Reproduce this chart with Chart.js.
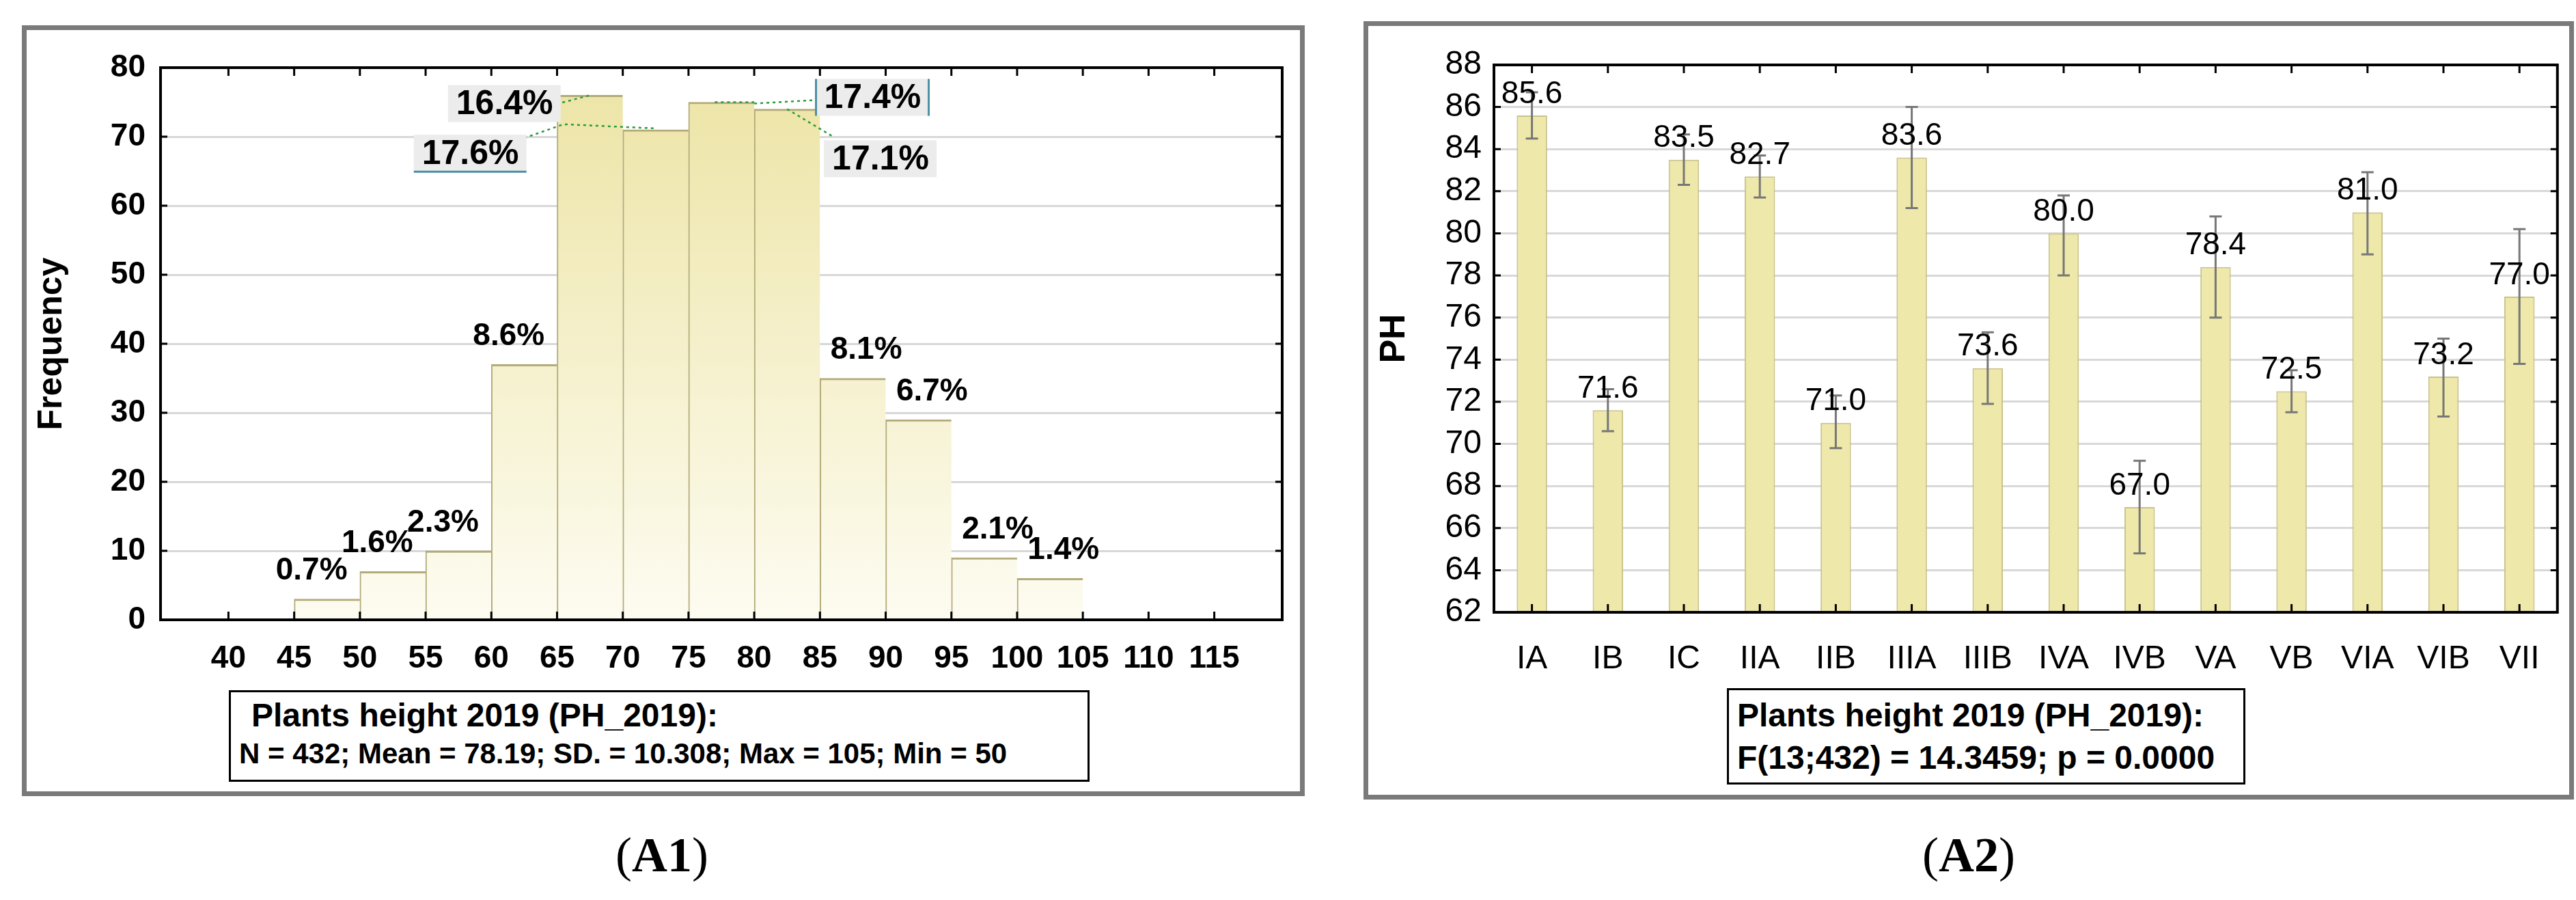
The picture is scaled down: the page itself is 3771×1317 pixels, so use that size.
<!DOCTYPE html>
<html><head><meta charset="utf-8">
<script src="https://cdn.jsdelivr.net/npm/chart.js@4"></script>
<style>
body{margin:0;background:#fff;width:3771px;height:1317px;position:relative;overflow:hidden;font-family:'Liberation Sans Narrow','Liberation Sans',sans-serif}
.frame{position:absolute;border:7px solid #7a7a7a;box-sizing:border-box}
canvas{position:absolute}
.box{position:absolute;border:3px solid #000;background:#fff;font-weight:bold;font-size:44px;line-height:56px;padding:6px 12px;box-sizing:border-box;font-family:'Liberation Sans Narrow','Liberation Sans',sans-serif}
.cap{position:absolute;font-family:'Liberation Serif','DejaVu Serif',serif;font-size:72px;transform:translateX(-50%)}
</style></head><body>
<div class="frame" style="left:32px;top:37px;width:1878px;height:1128px"></div>
<div class="frame" style="left:1996px;top:31px;width:1772px;height:1139px"></div>
<canvas id="c1" width="1860" height="1115" style="left:42px;top:44px"></canvas>
<canvas id="c2" width="1752" height="1126" style="left:2006px;top:38px"></canvas>
<div class="box" style="left:335px;top:1010px;width:1260px;height:134px"><div style="padding-left:18px;font-size:48px">Plants height 2019 (PH_2019):</div><div style="font-size:42px">N = 432; Mean = 78.19; SD. = 10.308; Max = 105; Min = 50</div></div>
<div class="box" style="left:2528px;top:1007px;width:759px;height:141px;font-size:48px;line-height:62px"><div>Plants height 2019 (PH_2019):</div><div>F(13;432) = 14.3459; p = 0.0000</div></div>
<div class="cap" style="left:969px;top:1210px">(<b>A1</b>)</div>
<div class="cap" style="left:2882px;top:1210px">(<b>A2</b>)</div>
<script>
// ---- A1 histogram data ----
const binStarts = [45,50,55,60,65,70,75,80,85,90,95,100];
const binCounts = [3,7,10,37,76,71,75,74,35,29,9,6];
const binPercents = ["0.7%","1.6%","2.3%","8.6%","17.6%","16.4%","17.4%","17.1%","8.1%","6.7%","2.1%","1.4%"];
const histTicks = [40,45,50,55,60,65,70,75,80,85,90,95,100,105,110,115];
// ---- A2 means data ----
const groups = ["IA","IB","IC","IIA","IIB","IIIA","IIIB","IVA","IVB","VA","VB","VIA","VIB","VII"];
const phMeans = [85.6,71.6,83.5,82.7,71.0,83.6,73.6,80.0,67.0,78.4,72.5,81.0,73.2,77.0];
const phLow  = [84.5,70.6,82.3,81.7,69.8,81.2,71.9,78.0,64.8,76.0,71.5,79.0,71.3,73.8];
const phHigh = [86.7,72.6,84.7,83.7,72.3,86.0,75.3,81.8,69.2,80.8,73.5,82.9,75.0,80.2];
const phTicks = [62,64,66,68,70,72,74,76,78,80,82,84,86,88];

const NF = "'Liberation Sans Narrow','Liberation Sans',sans-serif";
Chart.defaults.devicePixelRatio = 1;
Chart.defaults.animation = false;

function tickMarks(chart, xs){
  const a = chart.chartArea, ctx = chart.ctx, x = chart.scales.x, y = chart.scales.y;
  ctx.save(); ctx.strokeStyle='#000'; ctx.lineWidth=3;
  xs.forEach(v=>{const px=x.getPixelForValue(v);
    ctx.beginPath();ctx.moveTo(px,a.top);ctx.lineTo(px,a.top+12);ctx.moveTo(px,a.bottom);ctx.lineTo(px,a.bottom-12);ctx.stroke();});
  y.ticks.forEach(t=>{const py=y.getPixelForValue(t.value);
    ctx.beginPath();ctx.moveTo(a.left,py);ctx.lineTo(a.left+10,py);ctx.moveTo(a.right,py);ctx.lineTo(a.right-10,py);ctx.stroke();});
  ctx.lineWidth=4; ctx.strokeRect(a.left,a.top,a.right-a.left,a.bottom-a.top);
  ctx.restore();
}

// ---- Chart A1 ----
const ctx1 = document.getElementById('c1').getContext('2d');
const histPlugin = {
  id:'hist',
  afterDatasetsDraw(chart){
    const ctx=chart.ctx, x=chart.scales.x, y=chart.scales.y;
    tickMarks(chart, histTicks);
    ctx.save();
    ctx.font = "bold 46px "+NF; ctx.fillStyle='#000'; ctx.textBaseline='bottom'; ctx.textAlign='left';
    binStarts.forEach((s,i)=>{
      if(i>=4&&i<=7) return;
      const off = s<85 ? -1.4 : 0.8;
      ctx.fillText(binPercents[i], x.getPixelForValue(s+off), y.getPixelForValue(binCounts[i]+1.8));
    });
    // dotted leaders
    ctx.strokeStyle='#2a9a3a'; ctx.lineWidth=2.5; ctx.setLineDash([4,5]);
    const L=[[[62.5,69.8],[65.5,71.8],[72.5,71.2]],[[64.5,74.5],[67.5,76]],[[77,75],[80,75]],[[80,74.8],[84.7,75.3]],[[82.5,74],[86,70]]];
    L.forEach(seg=>{ctx.beginPath();seg.forEach((p,k)=>{const X=x.getPixelForValue(p[0]),Y=y.getPixelForValue(p[1]);k?ctx.lineTo(X,Y):ctx.moveTo(X,Y);});ctx.stroke();});
    ctx.setLineDash([]);
    // boxed labels for central bins
    const boxes = [
      {i:4, vx:54.1, vy:67.6, line:'under'},
      {i:5, vx:56.7, vy:74.8},
      {i:6, vx:84.7, vy:75.7, line:'sides'},
      {i:7, vx:85.3, vy:66.8}
    ];
    ctx.font = "bold 50px "+NF;
    boxes.forEach(b=>{
      const px=x.getPixelForValue(b.vx), py=y.getPixelForValue(b.vy);
      const w=165, h=54;
      ctx.fillStyle='#ececec'; ctx.fillRect(px,py-h/2,w,h);
      ctx.fillStyle='#000'; ctx.textBaseline='middle'; ctx.fillText(binPercents[b.i], px+12, py+2);
      ctx.strokeStyle='#4a90a4'; ctx.lineWidth=3; ctx.beginPath();
      if(b.line==='under'){ctx.moveTo(px,py+h/2);ctx.lineTo(px+w,py+h/2);}
      if(b.line==='sides'){ctx.moveTo(px,py-h/2);ctx.lineTo(px,py+h/2);ctx.moveTo(px+w,py-h/2);ctx.lineTo(px+w,py+h/2);}
      ctx.stroke();
    });
    ctx.restore();
  }
};
const grad1 = ctx1.createLinearGradient(0,99,0,907);
grad1.addColorStop(0,'#ede5a8'); grad1.addColorStop(1,'#fefdf5');
new Chart(ctx1,{
  type:'bar',
  data:{datasets:[{data:binStarts.map((s,i)=>({x:s+2.5,y:binCounts[i]})),
    backgroundColor:grad1, borderColor:'#b3ab78', borderWidth:{top:3,left:2,right:0,bottom:0},
    barPercentage:1, categoryPercentage:1, grouped:false}]},
  options:{responsive:false,
    layout:{padding:{top:55,right:25,left:0,bottom:0}},
    plugins:{legend:{display:false},tooltip:{enabled:false}},
    scales:{
      x:{type:'linear',min:37.5,max:117.5,afterBuildTicks(s){s.ticks=histTicks.map(v=>({value:v}));},
        grid:{display:false,drawTicks:false},border:{display:false},
        ticks:{font:{family:NF,size:46,weight:'bold'},color:'#000',padding:30,autoSkip:false,maxRotation:0},
        afterFit(s){s.height=1115-55-808;}},
      y:{min:0,max:80,ticks:{stepSize:10,font:{family:NF,size:46,weight:'bold'},color:'#000',padding:22},
        grid:{color:'#d8d8d8',lineWidth:3,drawTicks:false},border:{display:false},
        title:{display:true,text:'Frequency',font:{family:"'Liberation Sans',sans-serif",size:50,weight:'bold'},color:'#000',padding:{bottom:10}},
        afterFit(s){s.width=193;}}
    }},
  plugins:[histPlugin]
});

// ---- Chart A2 ----
const ctx2 = document.getElementById('c2').getContext('2d');
const phPlugin = {
  id:'ph',
  afterDatasetsDraw(chart){
    const ctx=chart.ctx, x=chart.scales.x, y=chart.scales.y;
    tickMarks(chart, groups.map((g,i)=>i));
    ctx.save();
    ctx.strokeStyle='#777'; ctx.lineWidth=3;
    groups.forEach((g,i)=>{
      const px=x.getPixelForValue(i), lo=y.getPixelForValue(phLow[i]), hi=y.getPixelForValue(phHigh[i]);
      ctx.beginPath();ctx.moveTo(px,lo);ctx.lineTo(px,hi);
      ctx.moveTo(px-9,lo);ctx.lineTo(px+9,lo);ctx.moveTo(px-9,hi);ctx.lineTo(px+9,hi);ctx.stroke();
    });
    ctx.font="46px "+NF; ctx.fillStyle='#000'; ctx.textAlign='center'; ctx.textBaseline='bottom';
    groups.forEach((g,i)=>{
      ctx.fillText(phMeans[i].toFixed(1), x.getPixelForValue(i), y.getPixelForValue(phMeans[i])-8);
    });
    ctx.restore();
  }
};
new Chart(ctx2,{
  type:'bar',
  data:{labels:groups,datasets:[{data:phMeans,backgroundColor:'#eee8aa',borderColor:'#c9c28a',borderWidth:2,barPercentage:0.4,categoryPercentage:1}]},
  options:{responsive:false,
    layout:{padding:{top:57,right:13,left:0,bottom:0}},
    plugins:{legend:{display:false},tooltip:{enabled:false}},
    scales:{
      x:{grid:{display:false,drawTicks:false},border:{display:false},
        ticks:{font:{family:NF,size:48},color:'#000',padding:40,maxRotation:0,autoSkip:false},
        afterFit(s){s.height=1126-57-801;}},
      y:{min:62,max:88,afterBuildTicks(s){s.ticks=phTicks.map(v=>({value:v}));},
        ticks:{font:{family:NF,size:48},color:'#000',padding:18},
        grid:{color:'#d8d8d8',lineWidth:3,drawTicks:false},border:{display:false},
        title:{display:true,text:'PH',font:{family:"'Liberation Sans',sans-serif",size:52,weight:'bold'},color:'#000',padding:{bottom:8}},
        afterFit(s){s.width=181;}}
    }},
  plugins:[phPlugin]
});
</script></body></html>
